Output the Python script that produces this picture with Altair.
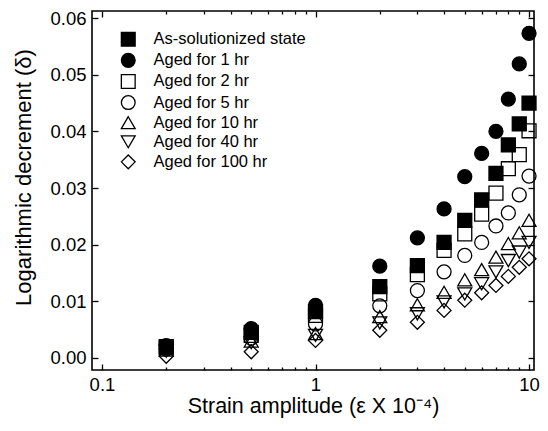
import altair as alt
import pandas as pd

# ---- data ----
strain = [0.2, 0.5, 1, 2, 3, 4, 5, 6, 7, 8, 9, 10]
series_names = [
    "As-solutionized state",
    "Aged for 1 hr",
    "Aged for 2 hr",
    "Aged for 5 hr",
    "Aged for 10 hr",
    "Aged for 40 hr",
    "Aged for 100 hr",
]
as_sol = [0.0020, 0.0045, 0.0082, 0.0126, 0.0163, 0.0204, 0.0243, 0.0279, 0.0326, 0.0376, 0.0413, 0.0450]
aged_1 = [0.0022, 0.0052, 0.0093, 0.0162, 0.0212, 0.0263, 0.0320, 0.0361, 0.0400, 0.0457, 0.0519, 0.0573]
aged_2 = [0.0018, 0.0040, 0.0075, 0.0113, 0.0147, 0.0190, 0.0219, 0.0254, 0.0291, 0.0334, 0.0359, 0.0401]
aged_5 = [0.0016, 0.0035, 0.0060, 0.0092, 0.0119, 0.0152, 0.0181, 0.0204, 0.0233, 0.0256, 0.0288, 0.0321]
aged_10 = [0.0014, 0.0030, 0.0043, 0.0073, 0.0094, 0.0116, 0.0138, 0.0156, 0.0178, 0.0202, 0.0221, 0.0243]
aged_40 = [0.0012, 0.0027, 0.0040, 0.0062, 0.0078, 0.0099, 0.0113, 0.0131, 0.0152, 0.0172, 0.0187, 0.0204]
aged_100 = [0.0003, 0.0011, 0.0031, 0.0049, 0.0063, 0.0084, 0.0102, 0.0115, 0.0128, 0.0144, 0.0160, 0.0175]

shapes = ["square", "circle", "square", "circle", "triangle-up", "triangle-down", "diamond"]
fills = ["black", "black", "transparent", "transparent", "transparent", "transparent", "transparent"]
strokes = ["black"] * 7

x_major = [0.1, 1, 10]
x_minor = [0.2, 0.3, 0.4, 0.5, 0.6, 0.7, 0.8, 0.9, 2, 3, 4, 5, 6, 7, 8, 9]
y_major = [0.0, 0.01, 0.02, 0.03, 0.04, 0.05, 0.06]

rows = []
for name, vals in zip(series_names, [as_sol, aged_1, aged_2, aged_5, aged_10, aged_40, aged_100]):
    for s, v in zip(strain, vals):
        rows.append({"strain": s, "delta": v, "series": name})
df = pd.DataFrame(rows)

FONT = "Liberation Sans"
xscale = alt.Scale(type="log", domain=[0.0898, 10.55], nice=False)
yscale = alt.Scale(domain=[-0.00212, 0.06124], nice=False, zero=False)

common_axis = dict(domain=False, grid=False, tickColor="black", tickWidth=1.3,
                   labelFont=FONT, labelColor="black", titleFont=FONT,
                   titleColor="black", titleFontWeight="normal")

legend_kw = dict(title=None, orient="none", legendX=28, legendY=20)

base = alt.Chart(df)

points = base.mark_point(filled=True, strokeWidth=1.3, size=195, opacity=1).encode(
    x=alt.X("strain:Q", scale=xscale,
            axis=alt.Axis(orient="bottom", values=x_major, format="~g", tickSize=6, offset=-6,
                          labelPadding=5, labelFontSize=18.5,
                          title="Strain amplitude (\u03b5 X 10\u207b\u2074)", titleFontSize=21.5,
                          titlePadding=2, **common_axis)),
    y=alt.Y("delta:Q", scale=yscale,
            axis=alt.Axis(orient="left", values=y_major, format=".2f", tickSize=6, offset=-6,
                          labelPadding=6, labelFontSize=18.5,
                          title="Logarithmic decrement (\u03b4)", titleFontSize=22,
                          titlePadding=14, titleY=166, **common_axis)),
    shape=alt.Shape("series:N", sort=series_names,
                    scale=alt.Scale(domain=series_names, range=shapes),
                    legend=alt.Legend(**legend_kw)),
    fill=alt.Fill("series:N", sort=series_names,
                  scale=alt.Scale(domain=series_names, range=fills),
                  legend=alt.Legend(**legend_kw)),
    stroke=alt.Stroke("series:N", sort=series_names,
                      scale=alt.Scale(domain=series_names, range=strokes),
                      legend=alt.Legend(**legend_kw)),
)

ghost2 = base.mark_point(opacity=0).encode(
    x=alt.X("strain:Q", scale=xscale,
            axis=alt.Axis(orient="bottom", values=x_minor, tickSize=3, offset=-3,
                          labels=False, title=None, **common_axis)),
    y=alt.Y("delta:Q", scale=yscale,
            axis=alt.Axis(orient="right", values=y_major, tickSize=6, offset=-6,
                          labels=False, title=None, **common_axis)),
)

ghost3 = base.mark_point(opacity=0).encode(
    x=alt.X("strain:Q", scale=xscale,
            axis=alt.Axis(orient="top", values=x_major, tickSize=6, offset=-6,
                          labels=False, title=None, **common_axis)),
    y=alt.Y("delta:Q", scale=yscale, axis=None),
)

ghost4 = base.mark_point(opacity=0).encode(
    x=alt.X("strain:Q", scale=xscale,
            axis=alt.Axis(orient="top", values=x_minor, tickSize=3, offset=-3,
                          labels=False, title=None, **common_axis)),
    y=alt.Y("delta:Q", scale=yscale, axis=None),
)

chart = alt.layer(points, ghost2, ghost3, ghost4).resolve_axis(
    x="independent", y="independent"
).properties(
    width=442,
    height=359,
    autosize=alt.AutoSizeParams(type="none"),
    padding={"left": 84, "top": 3, "right": 6, "bottom": 53},
    background="white",
).configure_view(
    stroke="black", strokeWidth=1.6
).configure_legend(
    labelFont=FONT, labelFontSize=16.5, labelColor="black",
    symbolSize=190, symbolStrokeWidth=1.3,
    labelOffset=17, rowPadding=1.1, padding=0,
)

chart.save("out.html", embed_options={"renderer": "svg", "actions": False})
